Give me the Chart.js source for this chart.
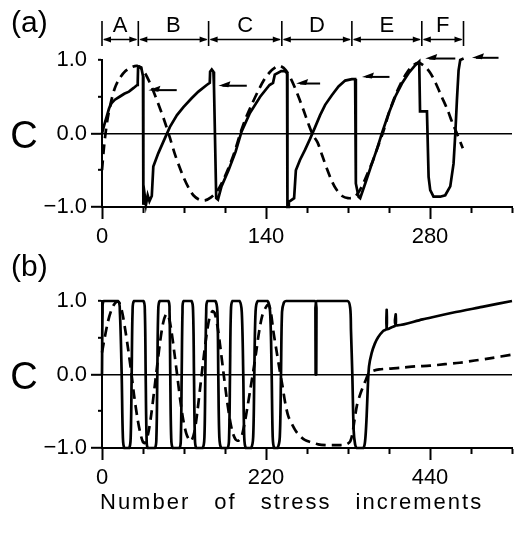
<!DOCTYPE html>
<html>
<head>
<meta charset="utf-8">
<title>C vs number of stress increments</title>
<script src="https://cdn.jsdelivr.net/npm/chart.js@4.4.0/dist/chart.umd.min.js"></script>
<style>
    html, body { margin: 0; padding: 0; background: #fff; }
    #wrap { position: relative; width: 522px; height: 536px; overflow: hidden; }
    #chartA { position: absolute; left: 0; top: 0; }
    #chartB { position: absolute; left: 0; top: 240px; }
    #xTitle {
        position: absolute; left: 100px; top: 491px;
        font-family: "Liberation Sans", Arial, sans-serif;
        font-size: 22px; line-height: 22px;
        letter-spacing: 2px; word-spacing: 16px;
        white-space: nowrap; color: #000;
    }
</style>
</head>
<body>
<div id="wrap">
    <canvas id="chartA" width="522" height="252"></canvas>
    <canvas id="chartB" width="522" height="296"></canvas>
    <div id="xTitle">Number of stress increments</div>
</div>

<script>
// Panel (a): axis ticks and labels
const xTicksA = { max: 350, step: 35, labels: [0, 140, 280] };
// Panel (b): axis ticks and labels
const xTicksB = { max: 550, step: 55, labels: [0, 220, 440] };
const yLabels = { '1': '1.0', '0': '0.0', '-1': '\u22121.0' };

// Loading stages A-F above panel (a) (boundaries in stress increments)
const stageNames = ['A', 'B', 'C', 'D', 'E', 'F'];
const stageBounds = [0, 31, 91, 153.5, 213.3, 273, 308.6];

// Small arrows pointing at the drops in panel (a): start x, end x, level
const pointerX0 = [39.6, 99.4, 165.7, 221.9, 275.9, 315.8];
const pointerX1 = [63.8, 123.6, 186.2, 245.4, 301.6, 338.5];
const pointerY = [0.59, 0.65, 0.68, 0.77, 1.02, 1.03];

// Panel (a) solid curve [increment, C]
const aSolid = [
    [0, 0], [2, 0.12], [4, 0.23], [6, 0.34], [8, 0.41], [11, 0.46], [15, 0.5], [19, 0.54],
    [23, 0.57], [27, 0.62], [30, 0.66], [30.5, 0.7], [30.8, 0.89], [32, 0.91], [33.5, 0.9],
    [34.5, 0.82], [35, 0.78], [35.3, -0.97], [36.3, -0.82], [37.5, -0.97], [39, -0.84],
    [40.5, -0.92], [42.5, -0.85], [43.8, -0.45], [48, -0.27], [52.4, -0.11], [58, 0.09],
    [64, 0.25], [69.5, 0.36], [76.5, 0.48], [82.3, 0.57], [89.4, 0.66], [92, 0.69],
    [92.3, 0.84], [93.7, 0.87], [95.1, 0.84], [95.6, 0.64], [97.5, -0.88], [99, -0.9],
    [102, -0.72], [108, -0.5], [114, -0.25], [119, 0.02], [126, 0.27], [135, 0.5],
    [143, 0.66], [146, 0.69], [147.5, 0.8], [153, 0.85], [156, 0.85], [158, 0.82],
    [158.3, -1.0], [158.8, -1.0], [159.5, -0.93], [164, -0.88], [165.5, -0.5], [169, -0.36],
    [173.4, -0.22], [177.7, -0.07], [182, 0.09], [186.2, 0.25], [190.5, 0.39], [196.2, 0.52],
    [201.9, 0.64], [207.6, 0.72], [213.3, 0.74], [216.1, 0.74], [216.7, -0.68], [219, -0.86],
    [220.4, -0.88], [224.7, -0.68], [230.4, -0.41], [235, -0.2], [238.9, 0], [244.6, 0.27],
    [250.3, 0.5], [256, 0.68], [261.7, 0.82], [267.4, 0.93], [270.8, 0.98], [271.5, 0.3],
    [277.4, 0.3], [278.8, -0.59], [280.2, -0.77], [283, -0.86], [288.7, -0.86], [293, -0.84],
    [297.3, -0.72], [300.1, -0.41], [301.6, 0], [303, 0.46], [304.4, 0.86], [305.8, 1.0],
    [308.7, 1.02]
];

// Panel (a) dashed curve
const aDashed = [
    [0, -0.5], [1.5, -0.22], [3, 0], [5, 0.22], [8, 0.45], [11, 0.62], [15, 0.75], [20, 0.85],
    [25, 0.9], [30, 0.92], [35, 0.86], [40, 0.72], [45, 0.53], [50, 0.32], [54, 0.14],
    [58, -0.06], [62, -0.27], [66, -0.45], [70, -0.61], [74, -0.74], [78, -0.84], [83, -0.9],
    [88, -0.91], [93, -0.87], [98, -0.79], [103, -0.65], [108, -0.47], [113, -0.26], [118, 0],
    [123, 0.22], [128, 0.4], [133, 0.57], [138, 0.72], [143, 0.83], [148, 0.9], [152, 0.92],
    [157, 0.86], [162, 0.72], [167, 0.53], [172, 0.32], [176, 0.14], [180, -0.02],
    [184, -0.12], [188, -0.3], [192, -0.48], [196, -0.64], [200, -0.76], [205, -0.85],
    [210, -0.88], [215, -0.87], [219, -0.8], [223, -0.68], [227, -0.53], [231, -0.38],
    [235, -0.2], [240, 0.02], [245, 0.28], [250, 0.5], [255, 0.68], [260, 0.82], [265, 0.92],
    [270, 0.96], [275, 0.92], [280, 0.83], [285, 0.68], [290, 0.5], [295, 0.32], [299, 0.15],
    [303, 0], [308, -0.2]
];

// Panel (b) solid curve
const bSolid = [
    [0, 0], [0.8, 0.85], [2.5, 1.0], [21.5, 1.0], [24, 0.85], [26.4, 0], [28, -0.85], [30, -1.0],
    [36.5, -1.0], [38.5, -0.85], [39.8, 0], [41, 0.85], [43, 1.0], [55.5, 1.0], [57.5, 0.85],
    [58.6, 0], [59.8, -0.85], [61.5, -1.0], [71, -1.0], [73, -0.85], [74.2, 0], [75.4, 0.85],
    [77.5, 1.0], [89, 1.0], [90.6, 0.85], [91.6, 0], [92.8, -0.85], [95, -1.0], [104, -1.0],
    [105.8, -0.85], [106.9, 0], [108, 0.85], [109.5, 1.0], [120, 1.0], [122.2, 0.85],
    [123.4, 0], [124.6, -0.85], [126.5, -1.0], [135, -1.0], [137.4, -0.85], [138.6, 0],
    [139.8, 0.85], [141.5, 1.0], [152, 1.0], [154.8, 0.85], [156, 0], [157.4, -0.85],
    [160, -1.0], [168.5, -1.0], [170.5, -0.85], [171.7, 0], [172.9, 0.85], [175, 1.0],
    [184.5, 1.0], [187.5, 0.85], [189.5, 0], [190.8, -0.85], [193, -1.0], [200, -1.0],
    [202.8, -0.85], [204.3, 0], [206, 0.85], [209, 1.0], [222, 1.0], [225.5, 0.85],
    [227.6, 0], [229, -0.85], [231, -1.0], [235.5, -1.0], [238.5, -0.85], [240.1, 0],
    [241.5, 0.85], [244, 0.98], [247, 1.0], [285.5, 1.0], [286.3, 0.9], [286.6, 0],
    [287.4, 0], [287.7, 0.9], [288.5, 1.0], [329.5, 1.0], [333, 0.9], [334, 0.6], [335.8, 0],
    [337.6, -0.76], [339.5, -0.95], [341.7, -1.0], [350.6, -1.0], [353, -0.9], [355, -0.57],
    [356.4, -0.21], [358.2, 0.11], [361.7, 0.29], [366, 0.42], [370.6, 0.51], [377, 0.59],
    [381.6, 0.62], [381.9, 0.88], [382.2, 0.62], [388, 0.64], [393.7, 0.67], [394, 0.82],
    [394.3, 0.67], [430, 0.75], [470, 0.84], [510, 0.92], [550, 1.0]
];

// Panel (b) dashed curve
const bDashed = [
    [0, 0.3], [4, 0.52], [8, 0.72], [12, 0.86], [16, 0.95], [20, 0.99], [23, 0.98], [27, 0.85],
    [31, 0.62], [35, 0.35], [39, 0.05], [43, -0.28], [47, -0.56], [51, -0.78], [55, -0.92],
    [58, -0.93], [62, -0.8], [66, -0.55], [70, -0.22], [74, 0.12], [78, 0.45], [82, 0.7],
    [86, 0.82], [89, 0.8], [93, 0.6], [97, 0.3], [101, -0.02], [105, -0.35], [109, -0.62],
    [113, -0.8], [117, -0.89], [120, -0.9], [124, -0.78], [128, -0.5], [132, -0.15], [136, 0.2],
    [140, 0.52], [144, 0.76], [148, 0.86], [151, 0.84], [155, 0.65], [159, 0.35], [163, 0.02],
    [167, -0.3], [171, -0.58], [175, -0.78], [179, -0.88], [183, -0.9], [187, -0.85],
    [191, -0.68], [195, -0.45], [199, -0.2], [203, 0.05], [207, 0.32], [211, 0.6], [215, 0.8],
    [219, 0.9], [223, 0.95], [226, 0.88], [230, 0.58], [234, 0.33], [238, 0.08], [242, -0.15],
    [246, -0.4], [250, -0.57], [255, -0.68], [260, -0.77], [266, -0.84], [272, -0.89],
    [280, -0.92], [290, -0.95], [300, -0.96], [310, -0.96], [320, -0.96], [328, -0.95],
    [333, -0.91], [336, -0.8], [339, -0.6], [342, -0.42], [346, -0.28], [350, -0.17],
    [354, -0.07], [358, 0.02], [364, 0.05], [372, 0.07], [385, 0.08], [400, 0.09], [420, 0.11],
    [440, 0.12], [460, 0.14], [480, 0.16], [500, 0.19], [520, 0.22], [550, 0.27]
];

const FONT = '"Liberation Sans", Arial, Helvetica, sans-serif';

// Draws panel tag, the upright "C", stage markers and pointer arrows
const decoPlugin = {
    id: 'deco',
    afterDraw(chart, args, opts) {
        const ctx = chart.ctx;
        const xs = chart.scales.x;
        const ys = chart.scales.y;
        ctx.save();
        ctx.fillStyle = '#000';
        ctx.strokeStyle = '#000';

        ctx.font = '30px ' + FONT;
        ctx.textAlign = 'left';
        ctx.textBaseline = 'alphabetic';
        ctx.fillText(opts.tag, 11, opts.tagBaseline);

        ctx.font = '38px ' + FONT;
        ctx.textAlign = 'center';
        ctx.fillText('C', 24, ys.getPixelForValue(0) + 14);

        if (opts.stages) {
            const lineY = 39.5;
            ctx.lineWidth = 1.6;
            const px = stageBounds.map(v => xs.getPixelForValue(v));
            px.forEach(p => {
                ctx.beginPath();
                ctx.moveTo(p, 21);
                ctx.lineTo(p, 46);
                ctx.stroke();
            });
            ctx.font = '22px ' + FONT;
            for (let i = 0; i < stageNames.length; i++) {
                const l = px[i], r = px[i + 1];
                ctx.beginPath();
                ctx.moveTo(l + 2, lineY);
                ctx.lineTo(r - 2, lineY);
                ctx.stroke();
                arrowHead(ctx, l + 1, lineY, -1, 8, 3);
                arrowHead(ctx, r - 1, lineY, 1, 8, 3);
                ctx.fillText(stageNames[i], (l + r) / 2, 32);
            }
        }

        if (opts.pointers) {
            ctx.lineWidth = 2;
            for (let i = 0; i < pointerX0.length; i++) {
                const x0 = xs.getPixelForValue(pointerX0[i]);
                const x1 = xs.getPixelForValue(pointerX1[i]);
                const y = ys.getPixelForValue(pointerY[i]);
                ctx.beginPath();
                ctx.moveTo(x0 + 4, y);
                ctx.lineTo(x1, y);
                ctx.stroke();
                ctx.beginPath();
                ctx.moveTo(x0, y);
                ctx.lineTo(x0 + 12, y - 4.5);
                ctx.lineTo(x0 + 10, y + 1.5);
                ctx.closePath();
                ctx.fill();
            }
        }
        ctx.restore();
    }
};

function arrowHead(ctx, tipX, y, dir, len, half) {
    ctx.beginPath();
    ctx.moveTo(tipX, y);
    ctx.lineTo(tipX - dir * len, y - half);
    ctx.lineTo(tipX - dir * len, y + half);
    ctx.closePath();
    ctx.fill();
}

function lineSet(points, dashed, tension) {
    return {
        data: points,
        borderColor: '#000',
        borderWidth: 2.7,
        borderDash: dashed ? [10, 6] : [],
        pointRadius: 0,
        tension: tension,
        fill: false,
        clip: false
    };
}

function makeChart(id, cfg) {
    return new Chart(document.getElementById(id), {
        type: 'line',
        data: {
            datasets: [
                lineSet(cfg.solid, false, cfg.solidTension),
                lineSet(cfg.dashed, true, 0.3)
            ]
        },
        plugins: [decoPlugin],
        options: {
            responsive: false,
            animation: false,
            devicePixelRatio: 1,
            events: [],
            layout: { padding: { top: cfg.top, right: 10, left: 0, bottom: 0 } },
            plugins: {
                legend: { display: false },
                tooltip: { enabled: false },
                deco: cfg.deco
            },
            scales: {
                x: {
                    type: 'linear',
                    min: 0,
                    max: cfg.ticks.max,
                    afterFit: s => { s.height = cfg.xAxisHeight; },
                    border: { color: '#000', width: 2 },
                    grid: {
                        drawOnChartArea: false,
                        tickLength: 12,
                        tickColor: '#000',
                        tickWidth: 2,
                        tickBorderDash: c => cfg.ticks.labels.includes(c.tick.value) ? [] : [5, 30]
                    },
                    ticks: {
                        stepSize: cfg.ticks.step,
                        autoSkip: false,
                        maxRotation: 0,
                        padding: 5,
                        color: '#000',
                        font: { family: FONT, size: 22 },
                        callback: v => cfg.ticks.labels.includes(v) ? String(v) : ''
                    }
                },
                y: {
                    min: -1,
                    max: 1,
                    afterFit: s => { s.width = 102; },
                    border: { color: '#000', width: 2 },
                    grid: {
                        drawOnChartArea: true,
                        color: c => c.tick && c.tick.value === 0 ? '#000' : 'rgba(0,0,0,0)',
                        lineWidth: 1.6,
                        tickLength: 11,
                        tickColor: '#000',
                        tickWidth: 2,
                        tickBorderDash: c => (c.tick.value === 0 || c.tick.value === -1) ? [] : [4, 7],
                        tickBorderDashOffset: 4
                    },
                    ticks: {
                        stepSize: 0.5,
                        padding: 4,
                        color: '#000',
                        font: { family: FONT, size: 22 },
                        callback: v => yLabels[String(v)] || ''
                    }
                }
            }
        }
    });
}

makeChart('chartA', {
    solid: aSolid,
    dashed: aDashed,
    solidTension: 0,
    ticks: xTicksA,
    top: 60,
    xAxisHeight: 45,
    deco: { tag: '(a)', tagBaseline: 32, stages: true, pointers: true }
});

makeChart('chartB', {
    solid: bSolid,
    dashed: bDashed,
    solidTension: 0.3,
    ticks: xTicksB,
    top: 61,
    xAxisHeight: 88,
    deco: { tag: '(b)', tagBaseline: 36, stages: false, pointers: false }
});
</script>
</body>
</html>
